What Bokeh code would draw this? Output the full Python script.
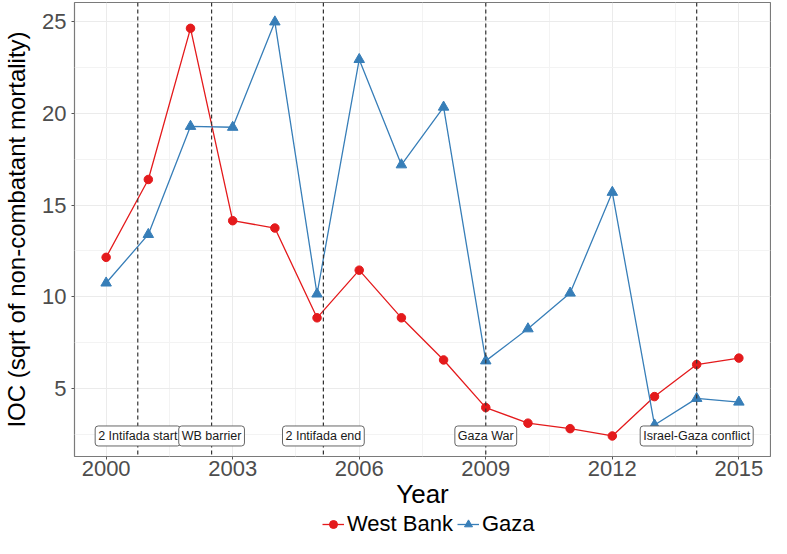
from bokeh.plotting import figure
from bokeh.layouts import column
from bokeh.models import Range1d, FixedTicker, Span, Label, Legend, LegendItem
from bokeh.embed import file_html
from bokeh.resources import INLINE

# ---- data ----
years = list(range(2000, 2016))
west_bank = [12.15, 16.4, 24.65, 14.15, 13.75, 8.85, 11.45, 8.85, 6.55, 3.95, 3.1, 2.8, 2.4, 4.55, 6.3, 6.65]
gaza = [10.75, 13.4, 19.3, 19.25, 25.0, 10.15, 22.95, 17.2, 20.35, 6.5, 8.25, 10.2, 15.7, 3.0, 4.45, 4.25]

event_x = [2000.75, 2002.5, 2005.15, 2009.0, 2014.0]
event_labels = ["2 Intifada start", "WB barrier", "2 Intifada end", "Gaza War", "Israel-Gaza conflict"]
event_label_y = 2.4

series_names = ["West Bank", "Gaza"]

x_ticks = [2000, 2003, 2006, 2009, 2012, 2015]
x_minor = [2001.5, 2004.5, 2007.5, 2010.5, 2013.5]
y_ticks = [5, 10, 15, 20, 25]
y_minor = [2.5, 7.5, 12.5, 17.5, 22.5]

RED = "#E41A1C"
BLUE = "#377EB8"
FONT = "Liberation Sans"

p = figure(width=771, height=511,
           x_range=Range1d(1999.25, 2015.75), y_range=Range1d(1.28, 26.06),
           output_backend="svg", toolbar_location=None,
           min_border_left=71, min_border_right=1, min_border_top=2, min_border_bottom=52)

p.background_fill_color = "white"
p.border_fill_color = "white"
p.outline_line_color = "#7a7a7a"
p.outline_line_width = 1.2

# axes
p.xaxis.ticker = FixedTicker(ticks=x_ticks, minor_ticks=x_minor)
p.yaxis.ticker = FixedTicker(ticks=y_ticks, minor_ticks=y_minor)
for ax in (p.xaxis[0], p.yaxis[0]):
    ax.axis_line_color = None
    ax.major_tick_in = 0
    ax.major_tick_out = 3
    ax.major_tick_line_color = "#555555"
    ax.minor_tick_in = 0
    ax.minor_tick_out = 0
    ax.major_label_text_font = FONT
    ax.major_label_text_font_size = "22px"
    ax.major_label_text_color = "#4D4D4D"
    ax.axis_label_text_font = FONT
    ax.axis_label_text_font_style = "normal"
    ax.axis_label_text_color = "black"

p.xaxis.major_label_standoff = 1
p.xaxis.axis_label_standoff = 0
p.yaxis.major_label_standoff = 5
p.yaxis.axis_label_standoff = 9

p.xaxis.axis_label = "Year"
p.xaxis.axis_label_text_font_size = "26px"
p.yaxis.axis_label = "IOC (sqrt of non-combatant mortality)"
p.yaxis.axis_label_text_font_size = "24px"

# grid
for g in (p.xgrid[0], p.ygrid[0]):
    g.grid_line_color = "#EBEBEB"
    g.grid_line_width = 1
    g.minor_grid_line_color = "#F3F3F3"
    g.minor_grid_line_width = 1

# series
p.line(years, west_bank, line_color=RED, line_width=1.3)
p.scatter(years, west_bank, marker="circle", size=8.5, fill_color=RED, line_color=RED)
p.line(years, gaza, line_color=BLUE, line_width=1.3)
p.scatter(years, gaza, marker="triangle", size=10.5, fill_color=BLUE, line_color=BLUE)

# event lines
for ex in event_x:
    p.add_layout(Span(location=ex, dimension="height", line_color="#333333",
                      line_width=1.2, line_dash="4 3"))

# event labels
for ex, txt in zip(event_x, event_labels):
    p.add_layout(Label(x=ex, y=event_label_y, text=txt, text_font=FONT,
                       text_font_size="12.5px", text_color="#1a1a1a",
                       text_align="center", text_baseline="middle",
                       background_fill_color="white", border_line_color="#666666",
                       border_line_width=1, padding=3, border_radius=3))

# legend strip (separate small figure holding only the legend; its renderers are hidden)
lg = figure(width=771, height=27, output_backend="svg", toolbar_location=None,
            x_axis_location=None, y_axis_location=None,
            min_border=0, min_border_left=0, min_border_right=0,
            min_border_top=0, min_border_bottom=0)
lg.outline_line_color = None
lg.xgrid.visible = False
lg.ygrid.visible = False
lg.background_fill_color = "white"
lg.border_fill_color = "white"
l1 = lg.line(years, west_bank, line_color=RED, line_width=1.3, visible=False)
s1 = lg.scatter(years, west_bank, marker="circle", size=8.5, fill_color=RED, line_color=RED, visible=False)
l2 = lg.line(years, gaza, line_color=BLUE, line_width=1.3, visible=False)
s2 = lg.scatter(years, gaza, marker="triangle", size=10.5, fill_color=BLUE, line_color=BLUE, visible=False)

legend = Legend(items=[LegendItem(label=series_names[0], renderers=[l1, s1]),
                       LegendItem(label=series_names[1], renderers=[l2, s2])],
                orientation="horizontal", location=(248, 1),
                label_text_font=FONT, label_text_font_size="22px", label_text_color="black",
                glyph_width=22, glyph_height=20, label_height=20, spacing=4,
                padding=0, margin=0, inactive_fill_alpha=0,
                label_standoff=3, border_line_color=None, background_fill_alpha=0)
lg.add_layout(legend)

layout = column(p, lg, spacing=0)
open("out.html", "w").write(file_html(layout, INLINE))
